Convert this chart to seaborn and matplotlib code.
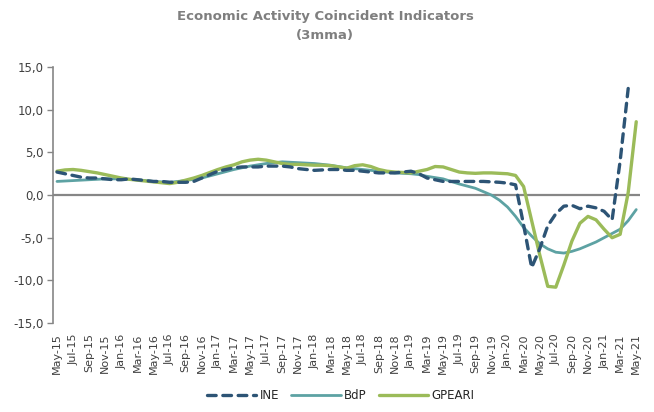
import numpy as np
import pandas as pd
import seaborn as sns
import matplotlib.pyplot as plt

# monthly, May-15 .. May-21
months = pd.period_range("2015-05", "2021-05", freq="M").strftime("%b-%y").tolist()

ine = [2.7, 2.5, 2.3, 2.1, 2.0, 2.0, 1.9, 1.8, 1.8, 1.9, 1.8, 1.7,
       1.6, 1.6, 1.5, 1.5, 1.5, 1.6, 2.0, 2.4, 2.8, 3.0, 3.2, 3.3,
       3.3, 3.3, 3.4, 3.4, 3.4, 3.3, 3.1, 3.0, 2.9, 2.95, 3.0, 3.0,
       2.9, 2.9, 2.8, 2.7, 2.6, 2.6, 2.6, 2.7, 2.8, 2.5, 2.0, 1.8,
       1.6, 1.6, 1.6, 1.6, 1.6, 1.6, 1.55, 1.5, 1.4, 1.2, -3.5, -8.5,
       -6.3, -3.6, -2.2, -1.3, -1.2, -1.6, -1.3, -1.5, -1.9, -2.9, 4.0, 12.5,
       np.nan]

bdp = [1.6, 1.65, 1.7, 1.75, 1.8, 1.85, 1.9, 1.9, 1.9, 1.85, 1.8, 1.7,
       1.6, 1.55, 1.5, 1.6, 1.7, 1.85, 2.0, 2.25, 2.5, 2.75, 3.0, 3.2,
       3.4, 3.55, 3.7, 3.8, 3.9, 3.85, 3.8, 3.75, 3.7, 3.6, 3.5, 3.35,
       3.2, 3.1, 3.0, 2.9, 2.8, 2.7, 2.6, 2.55, 2.5, 2.4, 2.2, 2.05,
       1.9, 1.6, 1.3, 1.05, 0.8, 0.4, 0.0, -0.6, -1.4, -2.5, -3.8, -4.8,
       -5.7, -6.3, -6.7, -6.8, -6.6, -6.3, -5.9, -5.5, -5.0, -4.5, -4.0, -3.0,
       -1.7]

gpeari = [2.8, 2.95, 3.0, 2.9, 2.75, 2.6, 2.4, 2.2, 2.0, 1.85, 1.75, 1.65,
          1.55, 1.45, 1.35, 1.5, 1.75, 2.0, 2.3, 2.65, 3.0, 3.3, 3.55, 3.9,
          4.1, 4.2, 4.1, 3.9, 3.7, 3.6, 3.6, 3.55, 3.5, 3.5, 3.45, 3.3,
          3.15, 3.45, 3.55, 3.35, 3.0, 2.8, 2.7, 2.65, 2.6, 2.8, 3.0, 3.35,
          3.3, 3.0, 2.7, 2.6, 2.55, 2.6, 2.6, 2.55, 2.5, 2.3, 1.0, -3.0,
          -7.0, -10.7, -10.8, -8.2, -5.4, -3.3, -2.5, -2.9, -4.0, -5.0, -4.6, 0.3,
          8.6]

yticks = [-15, -10, -5, 0, 5, 10, 15]

df = pd.DataFrame({"t": range(len(months)), "INE": ine, "BdP": bdp, "GPEARI": gpeari})

sns.set_style("white")
plt.rcParams['font.family'] = ['DejaVu Sans']

fig, ax = plt.subplots(figsize=(6.54, 4.12), dpi=100)
fig.subplots_adjust(left=0.081, right=0.979, top=0.837, bottom=0.216)

ax.axhline(0, color="#868686", lw=1.6, zorder=1)
sns.lineplot(data=df, x="t", y="INE", ax=ax, color="#2D5475", lw=2.4, label="INE", zorder=3)
ine_line = ax.lines[-1]
ine_line.set_dashes([2.6, 2.0])
ine_line.set_dash_capstyle("round")
sns.lineplot(data=df, x="t", y="BdP", ax=ax, color="#5DA2A3", lw=2.0, label="BdP", zorder=2)
sns.lineplot(data=df, x="t", y="GPEARI", ax=ax, color="#9BBB59", lw=2.4, label="GPEARI", zorder=2)

ax.set_xlim(-0.5, len(months) - 0.5)
ax.set_ylim(-15, 15)
ax.set_yticks(yticks)
ax.set_yticklabels([f"{v:.1f}".replace(".", ",") for v in yticks], fontsize=8.5, color="#404040")
ax.set_xticks(range(0, len(months), 2))
ax.set_xticklabels(months[::2], rotation=90, fontsize=8, color="#404040")
ax.set_xlabel("")
ax.set_ylabel("")

for s in ["top", "right", "bottom"]:
    ax.spines[s].set_visible(False)
ax.spines["left"].set_color("#868686")
ax.spines["left"].set_linewidth(1.2)
ax.tick_params(axis="y", which="both", left=True, length=4, width=1, color="#868686", pad=3)
ax.tick_params(axis="x", bottom=False, pad=4)

leg = ax.legend(loc="upper center", bbox_to_anchor=(0.49, -0.215), ncol=3, frameon=False,
                fontsize=8.5, handlelength=4.2, columnspacing=1.0, handletextpad=0.3)
for h in leg.get_lines():
    h.set_dash_capstyle("round")

fig.suptitle("Economic Activity Coincident Indicators\n(3mma)", x=0.497, y=0.975,
             fontsize=9.5, fontweight="bold", color="#7F7F7F", linespacing=1.6)

fig.savefig("out.png", dpi=100)
